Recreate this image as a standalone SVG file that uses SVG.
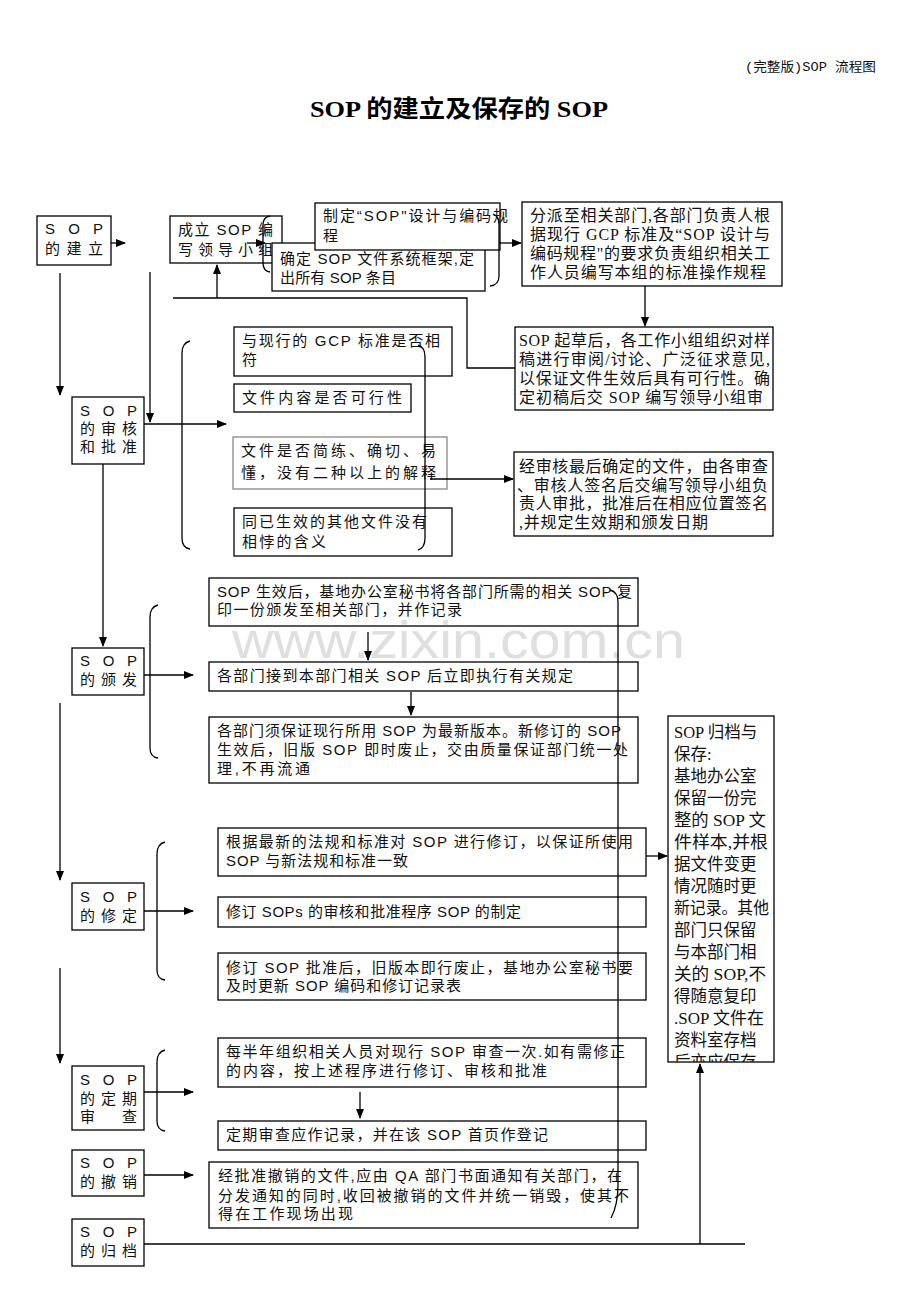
<svg xmlns="http://www.w3.org/2000/svg" width="920" height="1302" viewBox="0 0 920 1302">
<style>
.b{fill:#fff;stroke:#000;stroke-width:1.3}
.g{fill:#fff;stroke:#888;stroke-width:1.3}
.t{font-family:"Liberation Sans Narrow","Liberation Sans","Noto Sans CJK SC",sans-serif;font-size:15px;fill:#111}
.s{font-family:"Liberation Serif","Noto Sans CJK SC",serif;font-size:16px;fill:#111}
.v{font-family:"Liberation Serif","Noto Sans CJK SC",serif;font-size:16.5px;fill:#111}
.c{fill:none;stroke:#000;stroke-width:1.3}
.a{fill:none;stroke:#000;stroke-width:1.3;marker-end:url(#ah)}
</style>
<defs>
<marker id="ah" markerWidth="10" markerHeight="8" refX="9" refY="4" orient="auto" markerUnits="userSpaceOnUse">
<path d="M0,0 L10,4 L0,8 Z" fill="#000"/>
</marker>
<clipPath id="clip18"><rect x="668" y="716" width="106" height="346"/></clipPath>
</defs>
<rect width="920" height="1302" fill="#fff"/>
<text x="745" y="71" font-family="Liberation Mono,Noto Sans CJK SC,monospace" font-size="13" textLength="131" lengthAdjust="spacingAndGlyphs" fill="#111">(完整版)SOP 流程图</text>
<text x="310" y="117" font-family="Liberation Serif,Noto Sans CJK SC,serif" font-size="24" font-weight="bold" textLength="298" lengthAdjust="spacingAndGlyphs" fill="#000">SOP 的建立及保存的 SOP</text>

<g id="n1"><rect class="b" x="37" y="216" width="74" height="49"/>
<text class="t" x="45" y="234" textLength="58" lengthAdjust="spacing">S O P</text>
<text class="t" x="45" y="254" textLength="58" lengthAdjust="spacing">的建立</text></g>
<g id="n2"><rect class="b" x="170" y="216" width="112" height="47"/>
<text class="t" x="178" y="235" textLength="95" lengthAdjust="spacing">成立 SOP 编</text>
<text class="t" x="178" y="255" textLength="95" lengthAdjust="spacing">写领导小组</text></g>
<g id="n4"><rect class="b" x="272" y="243" width="213" height="48"/>
<text class="t" x="280" y="264" textLength="194" lengthAdjust="spacing">确定 SOP 文件系统框架,定</text>
<text class="t" x="280" y="283" textLength="116" lengthAdjust="spacing">出所有 SOP 条目</text></g>
<g id="n3"><rect class="b" x="315" y="203" width="185" height="47"/>
<text class="t" x="323" y="221" textLength="185" lengthAdjust="spacing">制定“SOP"设计与编码规</text>
<text class="t" x="323" y="241">程</text></g>
<g id="n5"><rect class="b" x="522" y="202" width="260" height="84"/>
<text class="s" x="530" y="221" textLength="240" lengthAdjust="spacing">分派至相关部门,各部门负责人根</text>
<text class="s" x="530" y="240" textLength="240" lengthAdjust="spacing">据现行 GCP 标准及“SOP 设计与</text>
<text class="s" x="530" y="259" textLength="240" lengthAdjust="spacing">编码规程"的要求负责组织相关工</text>
<text class="s" x="530" y="278" textLength="236" lengthAdjust="spacing">作人员编写本组的标准操作规程</text></g>
<g id="n6"><rect class="b" x="515" y="327" width="258" height="83"/>
<text class="s" x="519" y="346" textLength="251" lengthAdjust="spacing">SOP 起草后，各工作小组组织对样</text>
<text class="s" x="519" y="365" textLength="251" lengthAdjust="spacing">稿进行审阅/讨论、广泛征求意见,</text>
<text class="s" x="519" y="384" textLength="251" lengthAdjust="spacing">以保证文件生效后具有可行性。确</text>
<text class="s" x="519" y="403" textLength="244" lengthAdjust="spacing">定初稿后交 SOP 编写领导小组审</text></g>
<g id="n7"><rect class="b" x="72" y="397" width="72" height="67"/>
<text class="t" x="80" y="416" textLength="57" lengthAdjust="spacing">S O P</text>
<text class="t" x="80" y="434" textLength="57" lengthAdjust="spacing">的审核</text>
<text class="t" x="80" y="452" textLength="57" lengthAdjust="spacing">和批准</text></g>
<g id="n8"><rect class="b" x="234" y="327" width="218" height="49"/>
<text class="t" x="242" y="346" textLength="198" lengthAdjust="spacing">与现行的 GCP 标准是否相</text>
<text class="t" x="242" y="365">符</text></g>
<g id="n9"><rect class="b" x="234" y="384" width="177" height="28"/>
<text class="t" x="242" y="403" textLength="160" lengthAdjust="spacing">文件内容是否可行性</text></g>
<g id="n10"><rect class="g" x="233" y="437" width="214" height="52"/>
<text class="t" x="241" y="456" textLength="195" lengthAdjust="spacing">文件是否简练、确切、易</text>
<text class="t" x="241" y="478" textLength="195" lengthAdjust="spacing">懂，没有二种以上的解释</text></g>
<g id="n11"><rect class="b" x="234" y="508" width="218" height="48"/>
<text class="t" x="242" y="527" textLength="185" lengthAdjust="spacing">同已生效的其他文件没有</text>
<text class="t" x="242" y="547" textLength="84" lengthAdjust="spacing">相悖的含义</text></g>
<g id="n12"><rect class="b" x="514" y="452" width="259" height="84"/>
<text class="s" x="519" y="472" textLength="249" lengthAdjust="spacing">经审核最后确定的文件，由各审查</text>
<text class="s" x="517" y="491" textLength="251" lengthAdjust="spacing">、审核人签名后交编写领导小组负</text>
<text class="s" x="519" y="509" textLength="249" lengthAdjust="spacing">责人审批，批准后在相应位置签名</text>
<text class="s" x="519" y="528" textLength="189" lengthAdjust="spacing">,并规定生效期和颁发日期</text></g>
<g id="n13"><rect class="b" x="72" y="648" width="72" height="47"/>
<text class="t" x="80" y="666" textLength="57" lengthAdjust="spacing">S O P</text>
<text class="t" x="80" y="685" textLength="57" lengthAdjust="spacing">的颁发</text></g>
<g id="n14"><rect class="b" x="209" y="578" width="429" height="48"/>
<text class="t" x="217" y="597" textLength="415" lengthAdjust="spacing">SOP 生效后，基地办公室秘书将各部门所需的相关 SOP 复</text>
<text class="t" x="217" y="615" textLength="245" lengthAdjust="spacing">印一份颁发至相关部门，并作记录</text></g>
<g id="n15"><rect class="b" x="209" y="662" width="429" height="29"/>
<text class="t" x="217" y="681" textLength="356" lengthAdjust="spacing">各部门接到本部门相关 SOP 后立即执行有关规定</text></g>
<g id="n16"><rect class="b" x="209" y="717" width="429" height="66"/>
<text class="t" x="217" y="736" textLength="404" lengthAdjust="spacing">各部门须保证现行所用 SOP 为最新版本。新修订的 SOP</text>
<text class="t" x="217" y="755" textLength="411" lengthAdjust="spacing">生效后，旧版 SOP 即时废止，交由质量保证部门统一处</text>
<text class="t" x="217" y="774" textLength="93" lengthAdjust="spacing">理,不再流通</text></g>
<g id="n17"><rect class="b" x="218" y="828" width="428" height="48"/>
<text class="t" x="226" y="847" textLength="407" lengthAdjust="spacing">根据最新的法规和标准对 SOP 进行修订，以保证所使用</text>
<text class="t" x="226" y="866" textLength="182" lengthAdjust="spacing">SOP 与新法规和标准一致</text></g>
<g id="n18"><rect class="b" x="668" y="716" width="106" height="346"/>
<g clip-path="url(#clip18)">
<text class="v" x="674" y="738">SOP 归档与</text>
<text class="v" x="674" y="760">保存:</text>
<text class="v" x="674" y="782">基地办公室</text>
<text class="v" x="674" y="804">保留一份完</text>
<text class="v" x="674" y="826" textLength="92" lengthAdjust="spacingAndGlyphs">整的 SOP 文</text>
<text class="v" x="674" y="848" textLength="94" lengthAdjust="spacingAndGlyphs">件样本,并根</text>
<text class="v" x="674" y="870">据文件变更</text>
<text class="v" x="674" y="892">情况随时更</text>
<text class="v" x="674" y="914" textLength="95" lengthAdjust="spacingAndGlyphs">新记录。其他</text>
<text class="v" x="674" y="936">部门只保留</text>
<text class="v" x="674" y="958">与本部门相</text>
<text class="v" x="674" y="980" textLength="92" lengthAdjust="spacingAndGlyphs">关的 SOP,不</text>
<text class="v" x="674" y="1002">得随意复印</text>
<text class="v" x="674" y="1024" textLength="90" lengthAdjust="spacingAndGlyphs">.SOP 文件在</text>
<text class="v" x="674" y="1046">资料室存档</text>
<text class="v" x="674" y="1068">后亦应保存</text>
</g></g>
<g id="n19"><rect class="b" x="72" y="883" width="72" height="47"/>
<text class="t" x="80" y="902" textLength="57" lengthAdjust="spacing">S O P</text>
<text class="t" x="80" y="921" textLength="57" lengthAdjust="spacing">的修定</text></g>
<g id="n20"><rect class="b" x="218" y="897" width="428" height="30"/>
<text class="t" x="226" y="917" textLength="295" lengthAdjust="spacing">修订 SOPs 的审核和批准程序 SOP 的制定</text></g>
<g id="n21"><rect class="b" x="218" y="953" width="428" height="47"/>
<text class="t" x="226" y="973" textLength="407" lengthAdjust="spacing">修订 SOP 批准后，旧版本即行废止，基地办公室秘书要</text>
<text class="t" x="226" y="991" textLength="235" lengthAdjust="spacing">及时更新 SOP 编码和修订记录表</text></g>
<g id="n22"><rect class="b" x="72" y="1066" width="72" height="64"/>
<text class="t" x="80" y="1085" textLength="57" lengthAdjust="spacing">S O P</text>
<text class="t" x="80" y="1104" textLength="57" lengthAdjust="spacing">的定期</text>
<text class="t" x="80" y="1122" textLength="57" lengthAdjust="spacing">审    查</text></g>
<g id="n23"><rect class="b" x="218" y="1038" width="428" height="49"/>
<text class="t" x="226" y="1057" textLength="399" lengthAdjust="spacing">每半年组织相关人员对现行 SOP 审查一次.如有需修正</text>
<text class="t" x="226" y="1076" textLength="321" lengthAdjust="spacing">的内容，按上述程序进行修订、审核和批准</text></g>
<g id="n24"><rect class="b" x="218" y="1121" width="428" height="29"/>
<text class="t" x="226" y="1140" textLength="322" lengthAdjust="spacing">定期审查应作记录，并在该 SOP 首页作登记</text></g>
<g id="n25"><rect class="b" x="72" y="1150" width="72" height="46"/>
<text class="t" x="80" y="1168" textLength="57" lengthAdjust="spacing">S O P</text>
<text class="t" x="80" y="1187" textLength="57" lengthAdjust="spacing">的撤销</text></g>
<g id="n26"><rect class="b" x="209" y="1162" width="429" height="66"/>
<text class="t" x="218" y="1181" textLength="404" lengthAdjust="spacing">经批准撤销的文件,应由 QA 部门书面通知有关部门，在</text>
<text class="t" x="218" y="1201" textLength="411" lengthAdjust="spacing">分发通知的同时,收回被撤销的文件并统一销毁，使其不</text>
<text class="t" x="218" y="1219" textLength="135" lengthAdjust="spacing">得在工作现场出现</text></g>
<g id="n27"><rect class="b" x="72" y="1219" width="72" height="47"/>
<text class="t" x="80" y="1237" textLength="57" lengthAdjust="spacing">S O P</text>
<text class="t" x="80" y="1256" textLength="57" lengthAdjust="spacing">的归档</text></g>

<text x="232" y="658" font-family="Liberation Sans,sans-serif" font-size="52" textLength="453" lengthAdjust="spacingAndGlyphs" fill="#c4c4c4" fill-opacity="0.55">www.zixin.com.cn</text>

<g id="connectors">
<path class="a" d="M111,243 H125"/>
<path class="a" d="M247,243 H265"/>
<path class="a" d="M499,243 H521"/>
<path class="a" d="M645,286 V326"/>
<path class="c" d="M515,368 H467 V298 H173"/>
<path class="a" d="M217,298 V265"/>
<path class="a" d="M60,273 V395"/>
<path class="a" d="M150,272 V422"/>
<path class="a" d="M144,424 H226"/>
<path class="a" d="M430,479 H513"/>
<path class="a" d="M103,464 V646"/>
<path class="a" d="M144,675 H193"/>
<path class="a" d="M368,632 V660"/>
<path class="a" d="M411,692 V715"/>
<path class="a" d="M60,703 V880"/>
<path class="a" d="M144,911 H193"/>
<path class="a" d="M646,856 H667"/>
<path class="a" d="M60,968 V1063"/>
<path class="a" d="M144,1092 H193"/>
<path class="a" d="M360,1092 V1118"/>
<path class="a" d="M144,1175 H193"/>
<path class="c" d="M144,1244 H745"/>
<path class="a" d="M700,1244 V1064"/>
<path class="c" d="M270,216 Q263,217 263,225 V263 Q263,271 270,272"/>
<path class="c" d="M493,214 Q499,216 499,224 V276 Q499,285 490,286"/>
<path class="c" d="M190,341 Q182,343 182,353 V538 Q182,548 190,549"/>
<path class="c" d="M418,345 Q425,347 425,357 V538 Q425,548 418,550"/>
<path class="c" d="M158,605 Q150,607 150,617 V748 Q150,757 158,758"/>
<path class="c" d="M165,842 Q157,844 157,854 V970 Q157,979 165,980"/>
<path class="c" d="M165,1050 Q157,1052 157,1062 V1121 Q157,1130 165,1131"/>
<path class="c" d="M610,590 Q618,592 618,602 V1185 Q618,1205 611,1218"/>
</g>
</svg>
